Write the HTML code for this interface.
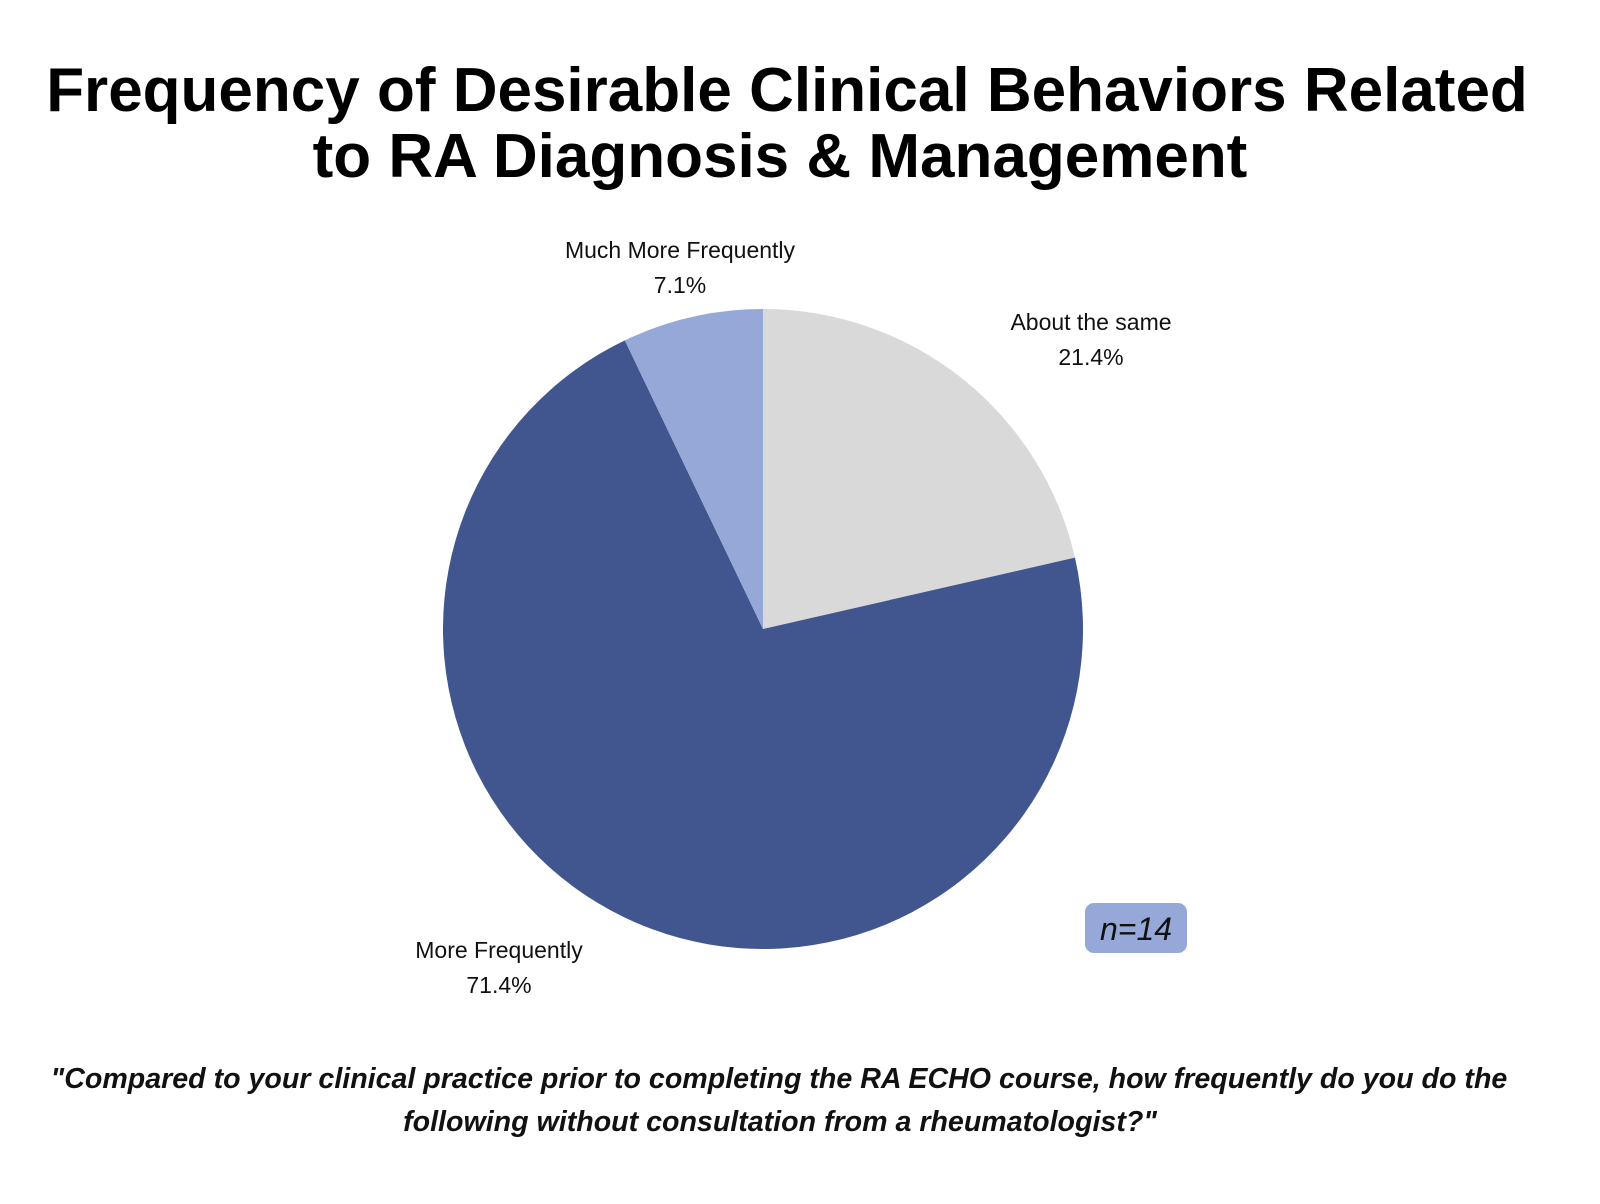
<!DOCTYPE html>
<html><head><meta charset="utf-8"><style>
body{margin:0;background:#fff;width:1600px;height:1199px;overflow:hidden;font-family:"Liberation Sans",sans-serif}
</style></head><body>
<svg width="1600" height="1199" viewBox="0 0 1600 1199">
<text x="787" y="111" text-anchor="middle" font-size="62" font-weight="bold" fill="#000">Frequency of Desirable Clinical Behaviors Related</text>
<text x="780" y="177" text-anchor="middle" font-size="62" font-weight="bold" fill="#000">to RA Diagnosis &amp; Management</text>
<g id="pie"></g>
<g>
<rect x="1085" y="903" width="102" height="50" rx="9" fill="#96a8d8"/>
<text x="1136" y="940" text-anchor="middle" font-size="32" font-style="italic" fill="#111">n=14</text>
</g>
<text x="779" y="1088" text-anchor="middle" font-size="28.6" font-weight="bold" font-style="italic" fill="#111">"Compared to your clinical practice prior to completing the RA ECHO course, how frequently do you do the</text>
<text x="780" y="1131" text-anchor="middle" font-size="28.6" font-weight="bold" font-style="italic" fill="#111">following without consultation from a rheumatologist?"</text>
</svg>
<script>
const categories=["About the same","More Frequently","Much More Frequently"];
const values=[21.4,71.4,7.1];
const labels=["21.4%","71.4%","7.1%"];
const colors=["#d9d9d9","#41568f","#96a8d8"];
const labelPos=[[1091,330],[499,958],[680,258]];
const cx=763,cy=629,r=320,NS="http://www.w3.org/2000/svg";
const g=document.getElementById('pie');
const total=values.reduce((a,b)=>a+b,0);
let a0=0;
values.forEach((v,i)=>{
  const a1=a0+v/total*2*Math.PI;
  const x0=cx+r*Math.sin(a0),y0=cy-r*Math.cos(a0),x1=cx+r*Math.sin(a1),y1=cy-r*Math.cos(a1);
  const p=document.createElementNS(NS,'path');
  p.setAttribute('d',`M${cx},${cy}L${x0},${y0}A${r},${r} 0 ${a1-a0>Math.PI?1:0} 1 ${x1},${y1}Z`);
  p.setAttribute('fill',colors[i]);
  
  
  g.appendChild(p);
  const t=document.createElementNS(NS,'text');
  t.setAttribute('x',labelPos[i][0]);t.setAttribute('y',labelPos[i][1]);
  t.setAttribute('text-anchor','middle');t.setAttribute('font-size','23');t.setAttribute('fill','#111');
  
  
  const s1=document.createElementNS(NS,'tspan');s1.setAttribute('x',labelPos[i][0]);s1.textContent=categories[i];
  const s2=document.createElementNS(NS,'tspan');s2.setAttribute('x',labelPos[i][0]);s2.setAttribute('dy','35');s2.textContent=labels[i];
  t.appendChild(s1);t.appendChild(s2);g.appendChild(t);
  a0=a1;
});
</script>
</body></html>
